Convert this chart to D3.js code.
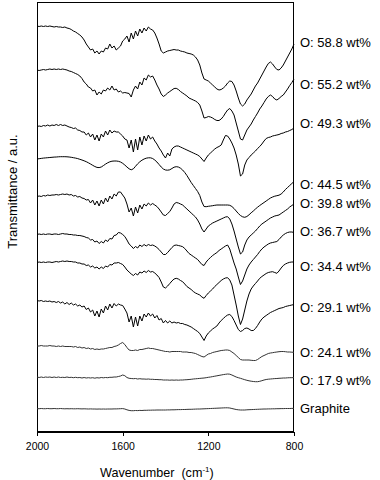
<!DOCTYPE html>
<html><head><meta charset="utf-8">
<script src="https://cdn.jsdelivr.net/npm/d3@7"></script>
<style>
html,body{margin:0;padding:0;background:#fff;}
svg{display:block;}
text{font-family:"Liberation Sans",Arial,Helvetica,sans-serif;fill:#000;}
</style>
</head><body>
<svg id="chart" width="380" height="480"></svg>
<script>
// ---------------- DATA ----------------
const wavenumbers = [
2000,1990,1980,1970,1960,1950,1940,1930,1920,1910,
1900,1890,1880,1870,1860,1850,1840,1830,1820,1810,
1800,1790,1780,1770,1760,1750,1740,1730,1720,1710,
1700,1690,1680,1670,1660,1650,1640,1630,1620,1610,
1600,1590,1580,1570,1560,1550,1540,1530,1520,1510,
1500,1490,1480,1470,1460,1450,1440,1430,1420,1410,
1400,1390,1380,1370,1360,1350,1340,1330,1320,1310,
1300,1290,1280,1270,1260,1250,1240,1230,1220,1210,
1200,1190,1180,1170,1160,1150,1140,1130,1120,1110,
1100,1090,1080,1070,1060,1050,1040,1030,1020,1010,
1000,990,980,970,960,950,940,930,920,910,
900,890,880,870,860,850,840,830,820,810,
800];

const seriesNames = ["O: 58.8 wt%","O: 55.2 wt%","O: 49.3 wt%","O: 44.5 wt%","O: 39.8 wt%",
  "O: 36.7 wt%","O: 34.4 wt%","O: 29.1 wt%","O: 24.1 wt%","O: 17.9 wt%","Graphite"];

// transmittance (a.u., vertically offset spectra)
const t588 = [
406,405.5,406,405.5,406,405.5,406,405.5,405,405.5,
405,405,404.5,405,404,403.5,402.5,401,400,398.5,
397,395,392,388,385,382,383,379,381,378,
381,380,384,383,388,384,386,382,384,386,
391,393,396,390,399,393,401,396,403,399,
404,401,405,403,402,399,394,388,381,379,
380,381,381.5,382,382.5,382,382,381,380.5,380,
379,378.5,378,377,375,372,367,359,353,352,
351,349,347,345,343,342,342.5,344,346,349,
351,350.5,347,341,334,328,326,328,332,335,
338,342,346,349,353,357,361,365,368.5,370,
368,365,362.5,362,364,367,371,375,379,383,
388];
const t552 = [
362,361.5,362,362.5,362,362.5,363,362.5,363,362.5,
363,362.5,363,362.5,362,361,360.5,359.5,358.5,357.5,
356,353.5,350,348,345,344,341,342,337,340,
338,342,341,344,342,346,342,343,340,341,
339,339.5,339,338.5,335,342,346,343,350,347,
354,352,357,355,356,352,347,343,338,335.5,
337,339,340.5,342,343.5,343.7,342.5,340.5,339,337.5,
336,334,333,332,331,329.5,327,321,314,314.5,
315.5,315,314,312.5,311.5,311.5,313,315.5,319,322,
323.5,321,317,309,301,293,292,297,302,305,
308,312,315.5,319,323,326,329.5,333,335.5,337,
335.5,333,332,333.5,335.5,337,340,343,346.5,349.5,
353];
const t493 = [
305.5,306,305.5,306.5,306,307,306,307,306.5,307.5,
306.5,307.5,306.5,307,306,305,304.5,303.5,304,302,
301.5,300,300,297,299,295,298,292,297,291,
298,295,301,297,302,299,301,300,300,298,
296,293,292,284,292,280,293,282,295,287,
296,291,297,293,295,291,288,284,281,277,
274,279,276,283,285,286,286,285,284,283,
282,281,280,279,278,277,275.5,273,270.5,274,
277,279,281,283,284.5,285.5,287,292,296.5,296,
293,289,284,277,268,256,258,267,272,274.5,
277,279,281,283.5,285.5,288,291,293.5,294.5,295,
296,296.5,297,297.5,298.5,299,300,300.5,301.5,302.5,
304];
const t445 = [
273,273.3,273.6,273.9,274.1,274.3,274.5,274.7,274.9,275,
275.2,275.3,275.3,275.3,275.2,275,274.7,274.3,273.9,273.4,
272.7,272,271.2,270.3,269.2,268,266.7,265.5,264.6,264.4,
265,266.4,267.9,269.2,270.2,270.8,271,271,270.7,270,
268.7,267,265,263.2,262.2,263.2,265.7,268.2,270.2,271.8,
273,273.8,274.2,274.2,273.5,272,270,267.5,265,263,
262,261.8,262.2,263.5,264.8,265.3,265,263.8,262,259.5,
256.5,253,249.5,246.5,243.5,240.5,236.5,230,225.5,225.3,
225.7,226,226.3,226.7,227,227,227,227,227,227,
226.7,225.5,223.5,221,218.5,216.5,215.2,214.7,215.5,217.2,
219.2,221,223,224.8,226.5,228,229.5,231,232.5,234,
235,235.8,236.3,236.8,238,240,242.5,244.5,246.5,248.5,
250.5];
const t398 = [
235.5,236,235.5,236.5,236,237,236.5,237,237,237.5,
237,237.5,238,237.5,238,237,237.5,236,236.5,235,
235.5,234,233.5,232,232.5,229,232,227,231,226,
232,228,234,230,236,233,238,236,240,240,
237,234,228,220,224,216,225,219,227,223,
228,226,229,227,228.5,227,225.5,223,220,217,
216.5,218.5,220.5,224,228,229.5,229,228,227,225,
223,221,219,217,215,212,208,203,200,203,
206,207.5,209,210,211,212,213,214,215,215.3,
213,208,201,193,185,178,180,187,192,195,
197,199,201,203.5,206,208,209.5,211,212.5,214,
215,216,216.5,217,218.5,220,221.5,223,225,226.5,
228];
const t367 = [
197.5,198,197.5,198,197.5,198,198,197.5,198,198,
197.5,198,198.5,198,198,197.5,197.5,197,197,196.5,
196.5,196,195.5,194.5,194,192,192.5,190,191,188.5,
190.5,189,192,190.5,193.5,193,196.5,197,199.5,199,
197.5,195.5,192,188,186,183.5,185.5,184,187,185.5,
187.5,186,187.5,186.5,187,186,184.5,182.5,180,177.5,
177.5,179.5,182,184.5,186.5,187,186.5,186,185.3,183.5,
181,178.5,177,175.5,174,172.5,170,167.5,166.5,170,
172.5,174.5,176.5,178,179.5,181.5,183,184.5,186,187,
183,176,169,163,155,147.5,151,157,163,167,
170,172.5,175,177.5,180.5,183,185,186.5,188,189,
189.5,190,190.5,192.5,195,197,198.5,199.5,200,200,
199.5];
const t344 = [
169.5,170,169.5,170,169.5,170,170,169.5,170,170.5,
170,170.5,171,170.5,171,170.5,170.5,170,170,169,
169,168,168,166.5,167,165,166,164,165,163,
165,163.5,166,165,167.5,167,169,169,169.5,168.5,
167.5,165,162,160,158,156.5,158.5,157,160,159,
161,159.5,161.5,160,160.5,159,157,154.5,150,145,
144,146,148.5,151,153,153.7,153,151.5,150.3,148,
145.5,144,142.5,140.5,139,138,137,135,133.7,136.5,
139,141,143,145.5,147.5,149.5,151.5,153,154,154.3,
152,147,137,127,116,107.5,113,122,131,138,
143,146,148.5,151,153.7,155.5,157,158.5,159.5,160,
160.3,159.5,158.7,161,164,166.5,168,169,169.7,170,
170];
const t291 = [
131.5,131,131.5,130.5,131,130.5,131,130,130.5,129.5,
130.5,129,130,128,129.5,127.5,129,127,128,126,
127,125,126,122.5,124,120,122,116,121,115,
123,119,126,122,128,124,128.5,126,128,127,
126.5,123,119,110,116,105,115,106,116,111,
118,115,119,116,118,114,116.5,112,113.5,109,
111.5,109,111,109,110,109,109.5,108.5,108.5,107.5,
107,106,105,103.5,102,100.5,98.5,95,91.5,96,
99,101,103,104.5,106,109,111.5,113.5,115.5,117,
117.5,115.5,111.5,107,102.5,100.5,101.5,103.5,104,103,
101.5,101.5,103.5,106.5,110,113,115,116.5,118,119.5,
120.5,121.5,122.5,123.5,124,124.5,125.5,126,126.5,127,
127.5];
const t241 = [
86,86,86.5,86,86,86,86.5,86,86,85.5,
86,85.5,86,85.5,85.5,85.5,85.5,85,85.5,84.5,
85,84,84.5,83.5,84,83,83.5,82.5,83,82.5,
83,83,83.5,84,84.5,84.5,85.5,86,87,88.5,
89.5,87.5,84.5,82,81.5,81.5,82,81.5,82.5,82.5,
83,83.5,84,83.5,83.5,83,82.5,82,81.5,81,
80.5,80.5,80,80.5,80.5,80.5,80.5,80.5,80,80,
80,79.5,79.5,79,78.5,77.5,76.5,75.5,75,76.5,
78,78.5,79.5,80,80.5,81,81.5,81.7,82,82,
81.5,80,78.5,76.5,74.5,72.5,72,72,72,72,
71.7,71.5,71.5,72.5,74,75.5,76.5,77.5,78.5,79,
79.3,79.7,80,80.3,80.5,80.5,80.3,80,80,79.8,
79.7];
const t179 = [
55,54.5,55,54.5,55,54.7,55,54.5,55,54.5,
55,54.5,54.7,54.5,55,54.5,54.7,54.3,54.7,54.3,
54.5,54,54.5,54,54.3,54,54.3,53.8,54.3,54,
54.5,54.2,54.5,54.3,54.7,54.7,55,55,55.5,56,
57,56.3,54.5,53.7,53.5,53.3,53.5,53,53.3,53,
53,52.8,53,52.7,52.7,52.5,52.5,52.3,52.3,52,
52,52,51.8,52,51.8,52,51.8,52,52,52.2,
52.3,52.5,52.7,53,53.2,53.4,53.6,53.8,54,54.3,
54.7,55,55.4,55.8,56.2,56.6,57,57.4,57.7,58,
57.8,57,56,55,54.3,53.7,53,52.3,51.7,51.2,
50.8,50.5,50.3,50.3,50.7,51.3,52,52.5,52.8,53,
53.2,53.4,53.5,53.7,53.8,54,54,54.2,54.3,54.3,
54.4];
const tGraphite = [
23.3,23.3,23.5,23.3,23.3,23.5,23.3,23.3,23.5,23.3,
23.3,23.5,23.3,23.2,23.3,23.2,23.3,23.2,23.2,23.3,
23.2,23.1,23.2,23.1,23,23.1,23,23,22.9,23,
22.9,23,22.9,23,23,23,23.1,23.1,23.2,23.3,
23.4,23,22.2,21.6,21.3,21.3,21.5,21.4,21.6,21.5,
21.7,21.7,21.8,21.8,21.9,21.9,22,22,22,22,
22,22.1,22.1,22.2,22.2,22.3,22.4,22.4,22.5,22.5,
22.6,22.7,22.7,22.8,22.9,23,23,23.1,23.2,23.3,
23.4,23.5,23.6,23.7,23.8,23.9,24,24.1,24.2,24.2,
24,23.5,23,22.5,22.2,22,22,22,22.2,22.3,
22.4,22.5,22.6,22.7,22.8,22.9,23,23,23.1,23.1,
23.2,23.2,23.3,23.3,23.4,23.4,23.5,23.5,23.5,23.6,
23.6];

const seriesValues = [t588,t552,t493,t445,t398,t367,t344,t291,t241,t179,tGraphite];
const xTickValues = [2000,1600,1200,800];
const xTickLabels = ["2000","1600","1200","800"];

// ---------------- LAYOUT ----------------
const L = 37, R = 294, T = 2, B = 432;
const labelBaselines = [46.7,88.7,128.3,189.3,208.3,236,270.7,311.7,357.3,385,412.7];

const svg = d3.select("#chart");
const x = d3.scaleLinear().domain([2000, 800]).range([L, R]);
const y = d3.scaleLinear().domain([0, 430]).range([B, T]);

// frame
svg.append("rect").attr("x", L + 0.5).attr("y", T + 0.5)
  .attr("width", R - L - 1).attr("height", B - T - 1)
  .attr("fill", "none").attr("stroke", "#000").attr("stroke-width", 1)
  .attr("shape-rendering", "crispEdges");

// x axis
const xAxis = d3.axisBottom(x).tickValues(xTickValues)
  .tickFormat((d, i) => xTickLabels[i]).tickSizeInner(4).tickSizeOuter(0).tickPadding(7);
const gx = svg.append("g").attr("transform", `translate(0,${B - 0.5})`).call(xAxis);
gx.select(".domain").attr("stroke", "#000").attr("shape-rendering", "crispEdges");
gx.selectAll(".tick line").attr("stroke", "#000").attr("shape-rendering", "crispEdges");
gx.selectAll(".tick text").attr("font-size", 10.5).attr("font-family", '"Liberation Sans",Arial,sans-serif').attr("fill", "#000");

// spectra
const line = d3.line().x((d, i) => x(wavenumbers[i])).y(d => y(d));
svg.append("g").selectAll("path").data(seriesValues).join("path")
  .attr("d", d => line(d))
  .attr("fill", "none")
  .attr("stroke", (d, i) => i >= 8 ? "#333" : "#000")
  .attr("stroke-width", 1)
  .attr("stroke-linejoin", "round");

// series labels
svg.append("g").selectAll("text").data(seriesNames).join("text")
  .attr("x", 300).attr("y", (d, i) => labelBaselines[i])
  .attr("font-size", 13).text(d => d);

// axis titles
const xt = svg.append("text").attr("x", 100).attr("y", 477.3).attr("font-size", 12.6)
  .style("white-space", "pre");
xt.append("tspan").text("Wavenumber  (cm");
xt.append("tspan").attr("font-size", 8).attr("dy", -5).text("-1");
xt.append("tspan").attr("dy", 5).text(")");

svg.append("text").attr("transform", "translate(17.3,191.5) rotate(-90)")
  .attr("text-anchor", "middle").attr("font-size", 13).text("Transmittance / a.u.");
</script>
</body></html>
